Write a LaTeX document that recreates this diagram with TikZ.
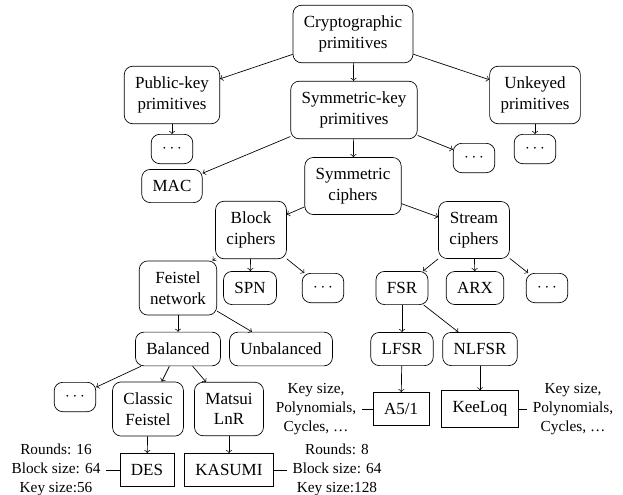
\documentclass[tikz,border=0pt]{standalone}
\usepackage{fontspec}
\setmainfont{Liberation Serif}
\begin{document}
\begin{tikzpicture}[x=0.5882pt,y=-0.5882pt,
   prim/.style={draw,rounded corners=5pt,align=center,inner sep=6.4pt},
   algo/.style={draw,align=center,inner sep=6.4pt},
   note/.style={align=center,font=\small}]
   \useasboundingbox (0,0) rectangle (623,495);
   % Primitives
   \node[prim] (crypto)  at (353,34)  {Cryptographic\\primitives};
   \node[prim] (pubkey)  at (172,95)  {Public-key\\primitives};
   \node[prim] (symkey)  at (354,110) {Symmetric-key\\primitives};
   \node[prim] (unkeyed) at (535,95)  {Unkeyed\\primitives};
   \node[prim] (pubdots) at (172,149) {$\cdots$};
   \node[prim] (unkdots) at (535,149) {$\cdots$};
   \node[prim] (symdots) at (474,158) {$\cdots$};
   \node[prim] (mac)     at (172,186) {MAC};
   \node[prim] (symciph) at (353,186) {Symmetric\\ciphers};
   % Block ciphers
   \node[prim] (block)    at (251,230) {Block\\ciphers};
   \node[prim] (feistel)  at (178,288) {Feistel\\network};
   \node[prim] (spn)      at (250,288) {SPN};
   \node[prim] (blkdots)  at (323,288) {$\cdots$};
   \node[prim] (balanced) at (178,349) {Balanced};
   \node[prim] (unbal)    at (281,349) {Unbalanced};
   \node[prim] (baldots)  at (75,397)  {$\cdots$};
   \node[prim] (classic)  at (148,409) {Classic\\Feistel};
   \node[prim] (matsui)   at (229,409) {Matsui\\LnR};
   \node[algo] (des)      at (147,470) {DES};
   \node[algo] (kasumi)   at (229,470) {KASUMI};
   % Stream ciphers
   \node[prim] (stream)  at (474,230) {Stream\\ciphers};
   \node[prim] (fsr)     at (402,288) {FSR};
   \node[prim] (arx)     at (475,288) {ARX};
   \node[prim] (strdots) at (547,288) {$\cdots$};
   \node[prim] (lfsr)    at (402,349) {LFSR};
   \node[prim] (nlfsr)   at (480,349) {NLFSR};
   \node[algo] (a51)     at (401,409) {A5/1};
   \node[algo] (keeloq)  at (480,409) {KeeLoq};
   % Parameters
   \node[note] (desnote) at (56,470)  {Rounds: 16\\Block size: 64\\Key size:56};
   \node[note] (kasnote) at (337,470) {Rounds: 8\\Block size: 64\\Key size:128};
   \node[note] (a5note)  at (316,409) {Key size,\\Polynomials,\\Cycles, \dots};
   \node[note] (keenote) at (573,409) {Key size,\\Polynomials,\\Cycles, \dots};
   % Arrows
   \draw[->] (crypto) -- (pubkey);
   \draw[->] (crypto) -- (symkey);
   \draw[->] (crypto) -- (unkeyed);
   \draw[->] (pubkey) -- (pubdots);
   \draw[->] (unkeyed) -- (unkdots);
   \draw[->] (symkey) -- (mac);
   \draw[->] (symkey) -- (symciph);
   \draw[->] (symkey) -- (symdots);
   \draw[->] (symciph) -- (block);
   \draw[->] (symciph) -- (stream);
   \draw[->] (block) -- (feistel);
   \draw[->] (block) -- (spn);
   \draw[->] (block) -- (blkdots);
   \draw[->] (feistel) -- (balanced);
   \draw[->] (feistel) -- (unbal);
   \draw[->] (balanced) -- (baldots);
   \draw[->] (balanced) -- (classic);
   \draw[->] (balanced) -- (matsui);
   \draw[->] (classic) -- (des);
   \draw[->] (matsui) -- (kasumi);
   \draw[->] (stream) -- (fsr);
   \draw[->] (stream) -- (arx);
   \draw[->] (stream) -- (strdots);
   \draw[->] (fsr) -- (lfsr);
   \draw[->] (fsr) -- (nlfsr);
   \draw[->] (lfsr) -- (a51);
   \draw[->] (nlfsr) -- (keeloq);
   % Links to parameters
   \draw (desnote) -- (des);
   \draw (kasumi) -- (kasnote);
   \draw (a5note) -- (a51);
   \draw (keeloq) -- (keenote);
\end{tikzpicture}
\end{document}
